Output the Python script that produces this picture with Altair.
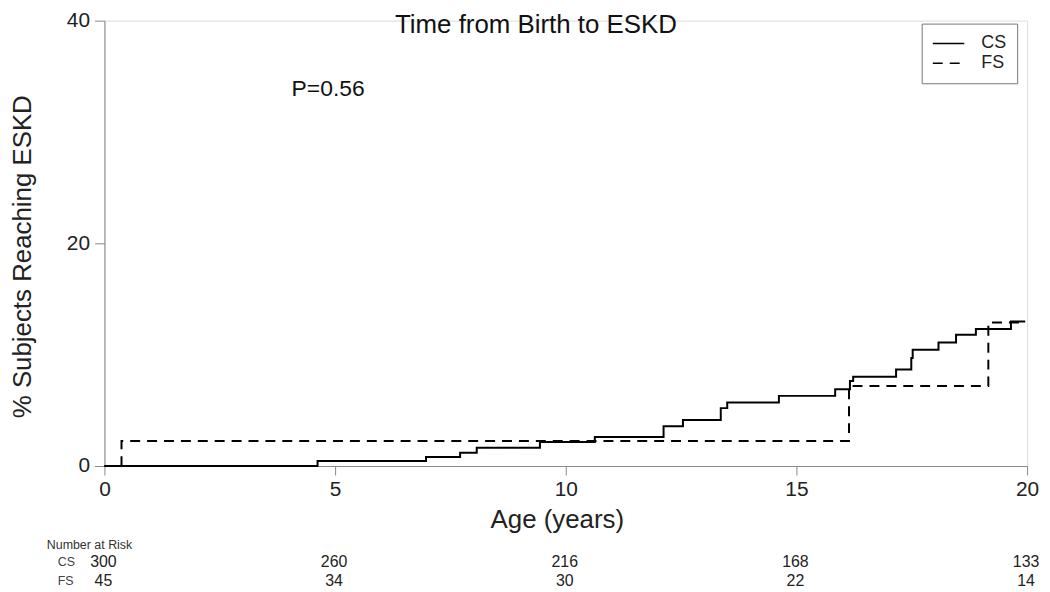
import altair as alt
import pandas as pd

# Kaplan-Meier style cumulative incidence (% reaching ESKD)
cs_time = [0, 4.62, 6.97, 7.71, 8.07, 9.44, 10.63, 12.12, 12.54, 13.36, 13.5, 14.62,
           15.84, 16.16, 16.23, 17.16, 17.49, 17.52, 18.08, 18.46, 18.89, 19.65, 19.96]
cs_pct = [0, 0.46, 0.82, 1.2, 1.65, 2.15, 2.6, 3.58, 4.14, 5.2, 5.71, 6.3,
          6.9, 7.64, 8.02, 8.67, 9.7, 10.45, 11.1, 11.79, 12.3, 12.97, 12.97]
fs_time = [0, 0.37, 16.14, 19.16, 19.96]
fs_pct = [0, 2.24, 7.19, 12.88, 12.88]

risk_times = [0, 5, 10, 15, 20]
risk_cs = [300, 260, 216, 168, 133]
risk_fs = [45, 34, 30, 22, 14]

FONT = "Liberation Sans"

curves = pd.DataFrame(
    {"time": cs_time + fs_time,
     "pct": cs_pct + fs_pct,
     "group": ["CS"] * len(cs_time) + ["FS"] * len(fs_time)}
)
risk_cs_df = pd.DataFrame({"time": risk_times, "n": [str(v) for v in risk_cs]})
risk_fs_df = pd.DataFrame({"time": risk_times, "n": [str(v) for v in risk_fs]})

xscale = alt.Scale(domain=[0, 20], nice=False)
yscale = alt.Scale(domain=[0, 40], nice=False)

lines = alt.Chart(curves).mark_line(interpolate="step-after", strokeWidth=2, color="black").encode(
    x=alt.X("time:Q", scale=xscale,
            axis=alt.Axis(values=[0, 5, 10, 15, 20], title="Age (years)", grid=False,
                          labelFontSize=21, titleFontSize=26, tickSize=9, labelPadding=4,
                          titlePadding=7, titleX=455, domainColor="#888", tickColor="#888",
                          labelColor="#222", titleColor="#222", titleFontWeight="normal",
                          labelFont=FONT, titleFont=FONT, labelFlush=False)),
    y=alt.Y("pct:Q", scale=yscale,
            axis=alt.Axis(values=[0, 20, 40], title="% Subjects Reaching ESKD", grid=False,
                          labelFontSize=21, titleFontSize=26, tickSize=10, labelPadding=5,
                          titlePadding=31, titleY=237, domainColor="#888", tickColor="#888",
                          labelColor="#222", titleColor="#222", titleFontWeight="normal",
                          labelFont=FONT, titleFont=FONT, labelFlush=False)),
    strokeDash=alt.StrokeDash(
        "group:N",
        scale=alt.Scale(domain=["CS", "FS"], range=[[1, 0], [10, 7]]),
        legend=alt.Legend(title=None, orient="none", legendX=822, legendY=3,
                          symbolType="stroke", symbolSize=1000, symbolStrokeWidth=1.5,
                          symbolStrokeColor="black", labelFontSize=18, labelFont=FONT,
                          labelColor="#222", clipHeight=20, rowPadding=0, labelOffset=16,
                          padding=10, strokeColor="#777", fillColor="white"),
    ),
)

title_txt = alt.Chart(pd.DataFrame({"t": ["Time from Birth to ESKD"]})).mark_text(
    fontSize=26, font=FONT, color="#111", align="center", baseline="alphabetic"
).encode(x=alt.value(434), y=alt.value(12), text="t:N")

p_txt = alt.Chart(pd.DataFrame({"t": ["P=0.56"]})).mark_text(
    fontSize=23, font=FONT, color="#111", align="center", baseline="alphabetic"
).encode(x=alt.value(225), y=alt.value(76), text="t:N")

risk_head = alt.Chart(pd.DataFrame({"t": ["Number at Risk"]})).mark_text(
    fontSize=12.5, font=FONT, color="#333", align="left", baseline="middle"
).encode(x=alt.value(-58), y=alt.value(527), text="t:N")

risk_lab_cs = alt.Chart(pd.DataFrame({"g": ["CS"]})).mark_text(
    fontSize=12.5, font=FONT, color="#444", align="left", baseline="middle"
).encode(x=alt.value(-47), y=alt.value(545), text="g:N")

risk_lab_fs = alt.Chart(pd.DataFrame({"g": ["FS"]})).mark_text(
    fontSize=12.5, font=FONT, color="#444", align="left", baseline="middle"
).encode(x=alt.value(-47), y=alt.value(564), text="g:N")

risk_nums_cs = alt.Chart(risk_cs_df).mark_text(
    fontSize=16, font=FONT, color="#222", align="center", baseline="middle", dx=-1
).encode(x=alt.X("time:Q", scale=xscale), y=alt.value(545), text="n:N")

risk_nums_fs = alt.Chart(risk_fs_df).mark_text(
    fontSize=16, font=FONT, color="#222", align="center", baseline="middle", dx=-1
).encode(x=alt.X("time:Q", scale=xscale), y=alt.value(564), text="n:N")

chart = alt.layer(
    lines, title_txt, p_txt, risk_head, risk_lab_cs, risk_lab_fs, risk_nums_cs, risk_nums_fs
).properties(
    width=928, height=448,
    autosize=alt.AutoSizeParams(type="none"),
    padding={"left": 97, "top": 11, "right": 15, "bottom": 124},
).configure_view(stroke=None).configure(background="white")

chart.save("out.html", embed_options={"renderer": "svg", "actions": False})
